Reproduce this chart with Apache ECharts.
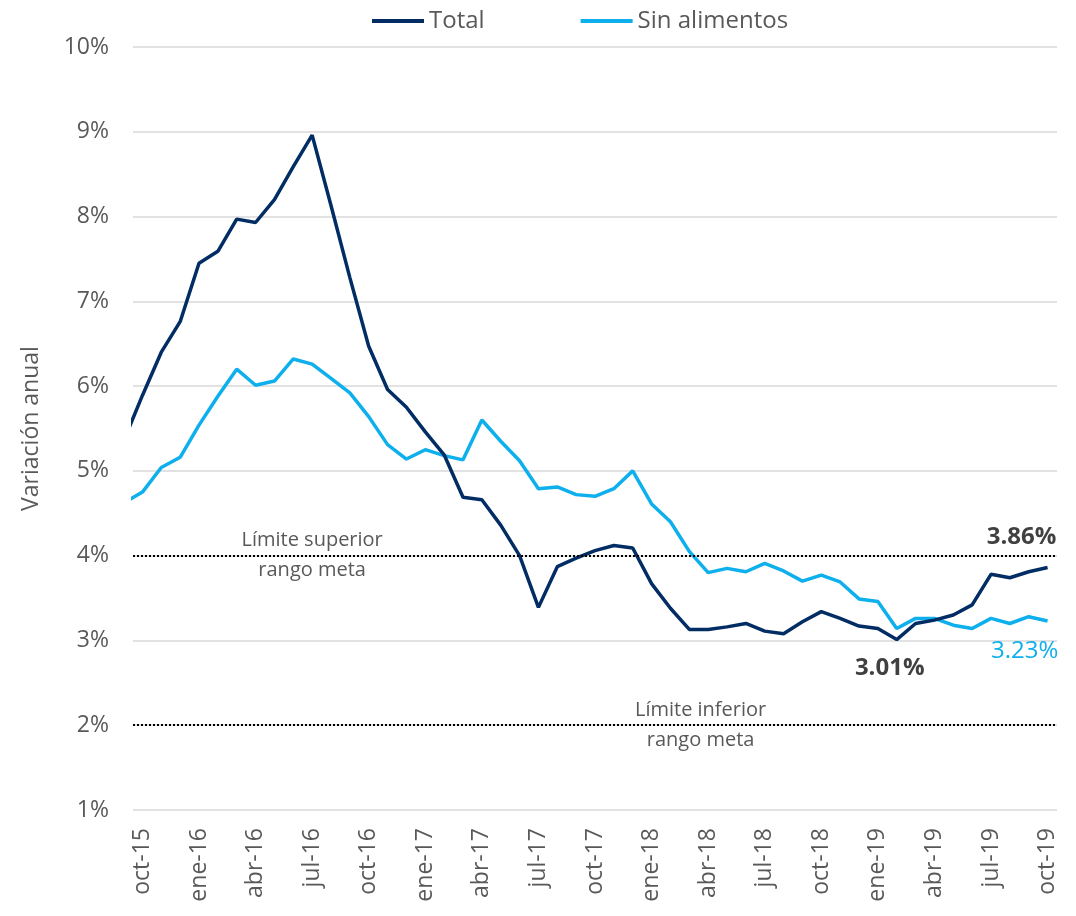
<!DOCTYPE html>
<html>
<head>
<meta charset="utf-8">
<script src="https://cdn.jsdelivr.net/npm/echarts@6/dist/echarts.min.js"></script>
<style>html,body{margin:0;padding:0;background:#fff}#c{width:1076px;height:916px}</style>
</head>
<body>
<div id="c"></div>
<script>
// Months from sep-15 (index -1, partly clipped at the left edge) to oct-19 (index 48)
const months = ['sep-15','oct-15','nov-15','dic-15',
  'ene-16','feb-16','mar-16','abr-16','may-16','jun-16','jul-16','ago-16','sep-16','oct-16','nov-16','dic-16',
  'ene-17','feb-17','mar-17','abr-17','may-17','jun-17','jul-17','ago-17','sep-17','oct-17','nov-17','dic-17',
  'ene-18','feb-18','mar-18','abr-18','may-18','jun-18','jul-18','ago-18','sep-18','oct-18','nov-18','dic-18',
  'ene-19','feb-19','mar-19','abr-19','may-19','jun-19','jul-19','ago-19','sep-19','oct-19'];
const tickLabels = ['oct-15','ene-16','abr-16','jul-16','oct-16','ene-17','abr-17','jul-17','oct-17','ene-18','abr-18','jul-18','oct-18','ene-19','abr-19','jul-19','oct-19'];
const total = [5.35, 5.89, 6.40, 6.76, 7.45, 7.59, 7.97, 7.93, 8.20, 8.59, 8.96, 8.13, 7.28, 6.47, 5.96, 5.75,
  5.46, 5.19, 4.69, 4.66, 4.36, 4.00, 3.39, 3.87, 3.97, 4.06, 4.12, 4.09,
  3.67, 3.38, 3.13, 3.13, 3.16, 3.20, 3.11, 3.08, 3.22, 3.34, 3.26, 3.17,
  3.14, 3.01, 3.20, 3.24, 3.30, 3.42, 3.78, 3.74, 3.81, 3.86];
const sinAlimentos = [4.62, 4.75, 5.04, 5.16, 5.54, 5.88, 6.20, 6.01, 6.06, 6.32, 6.26, 6.09, 5.92, 5.64, 5.31, 5.14,
  5.25, 5.18, 5.13, 5.60, 5.35, 5.12, 4.79, 4.81, 4.72, 4.70, 4.79, 5.00,
  4.61, 4.40, 4.05, 3.80, 3.85, 3.81, 3.91, 3.82, 3.70, 3.77, 3.69, 3.49,
  3.46, 3.14, 3.26, 3.26, 3.18, 3.14, 3.26, 3.20, 3.28, 3.23];
const yTicks = [1,2,3,4,5,6,7,8,9,10];
const limSuperior = 4, limInferior = 2;

const C_TOTAL = '#022d64', C_SIN = '#0db0ec', TXT = '#595959';
const FONT = '"Open Sans", "Noto Sans", sans-serif';

function idx(m){ return months.indexOf(m) - 1; }
function build(arr, special){
  return arr.map((v,i)=>{
    const p = {value:[i-1, v]};
    if (special[i]) p.label = Object.assign({show:true, formatter: q=>q.value[1].toFixed(2)+'%', fontFamily:FONT, fontSize:24}, special[i]);
    return p;
  });
}
const last = total.length - 1;
const minIdx = total.indexOf(Math.min(...total));
const totalData = build(total, {
  [last]: {position:'top', offset:[-26,-13], color:'#404040', fontWeight:'bold'},
  [minIdx]: {position:'bottom', offset:[-7,12], color:'#404040', fontWeight:'bold'}
});
const sinData = build(sinAlimentos, {
  [last]: {position:'bottom', offset:[-23,13], color:C_SIN}
});

const chart = echarts.init(document.getElementById('c'), null, {renderer:'canvas'});
chart.setOption({
  animation:false,
  backgroundColor:'#fff',
  textStyle:{fontFamily:FONT},
  legend:{
    top:4, left:367, itemGap:96, itemWidth:52, itemHeight:4, icon:'rect',
    textStyle:{fontSize:24, color:TXT, fontFamily:FONT},
    data:['Total','Sin alimentos']
  },
  grid:{left:133, right:19, top:47, bottom:106, containLabel:false},
  xAxis:{
    type:'value', min:-0.5, max:48.5,
    axisLine:{show:false}, axisTick:{show:false}, splitLine:{show:false},
    axisLabel:{
      customValues: tickLabels.map(t=>idx(t)),
      formatter: v=>months[Math.round(v)+1],
      rotate:90, margin:18, fontSize:23, color:TXT, fontFamily:FONT
    }
  },
  yAxis:{
    type:'value', min:yTicks[0], max:yTicks[yTicks.length-1], interval:1,
    name:'Variación anual', nameLocation:'middle', nameGap:90,
    nameTextStyle:{fontSize:23, color:TXT, fontFamily:FONT},
    axisLine:{show:false}, axisTick:{show:false},
    axisLabel:{formatter:'{value}%', fontSize:23, color:TXT, margin:24, fontFamily:FONT},
    splitLine:{lineStyle:{color:'#d9d9d9', width:1.5}}
  },
  series:[
    {
      name:'Total', type:'line', data:totalData, symbol:'circle', symbolSize:0.01, showSymbol:true,
      lineStyle:{color:C_TOTAL, width:3.5}, itemStyle:{color:C_TOTAL}, z:3,
      label:{show:false},
      markLine:{
        silent:true, symbol:'none', label:{show:false},
        lineStyle:{color:'#000', type:'dotted', width:2},
        data:[{yAxis:limSuperior},{yAxis:limInferior}]
      },
      markPoint:{
        silent:true, symbol:'circle', symbolSize:0,
        label:{show:true, color:TXT, fontSize:20, lineHeight:30, align:'center', verticalAlign:'middle', fontFamily:FONT},
        data:[
          {coord:[9, limSuperior], label:{formatter:'Límite superior\nrango meta'}},
          {coord:[29.6, limInferior], label:{formatter:'Límite inferior\nrango meta'}}
        ]
      }
    },
    {
      name:'Sin alimentos', type:'line', data:sinData, symbol:'circle', symbolSize:0.01, showSymbol:true,
      lineStyle:{color:C_SIN, width:3.5}, itemStyle:{color:C_SIN}, z:2,
      label:{show:false}
    }
  ]
});
</script>
</body>
</html>
